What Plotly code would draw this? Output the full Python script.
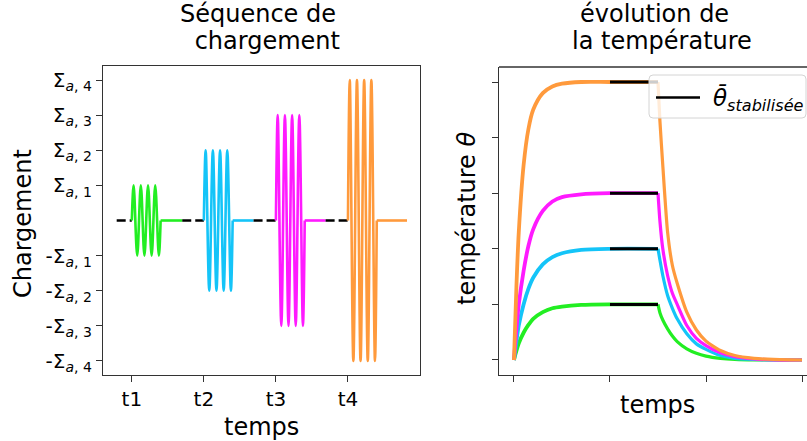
import plotly.graph_objects as go

# ---------------- data ----------------
# left panel: loading sequence
block_starts = [1, 2, 3, 4]
amplitudes = [1, 2, 3, 4]
colors = ['#22ee22', '#14c4f8', '#ff1aff', '#ff9a3c']
wave_offsets = [0, 0.025, 0.075, 0.125, 0.175, 0.225, 0.275, 0.325, 0.375, 0.4]
wave_pattern = [0, 1, -1, 1, -1, 1, -1, 1, -1, 0]
flat_ends = [1.70, 2.69, 3.69, 4.82]
dash_starts = [0.79, 1.70, 2.69, 3.69]
x_ticks_left = [1, 2, 3, 4]
x_ticktext_left = ['t1', 't2', 't3', 't4']
y_ticks_left = [-4, -3, -2, -1, 1, 2, 3, 4]
y_ticktext_left = ['-Σ<sub><i>a</i>, 4</sub>', '-Σ<sub><i>a</i>, 3</sub>', '-Σ<sub><i>a</i>, 2</sub>',
                   '-Σ<sub><i>a</i>, 1</sub>', 'Σ<sub><i>a</i>, 1</sub>', 'Σ<sub><i>a</i>, 2</sub>',
                   'Σ<sub><i>a</i>, 3</sub>', 'Σ<sub><i>a</i>, 4</sub>']

# right panel: temperature evolution
t_rise = [0, 0.025, 0.05, 0.1, 0.15, 0.2, 0.3, 0.4, 0.5, 0.7, 1.0, 1.5]
rise_green = [0, 0.16, 0.3, 0.49, 0.63, 0.74, 0.86, 0.93, 0.96, 0.99, 1.0, 1.0]
rise_cyan = [0, 0.33, 0.62, 1.0, 1.28, 1.48, 1.72, 1.85, 1.92, 1.98, 2.0, 2.0]
rise_magenta = [0, 0.55, 1.0, 1.6, 2.05, 2.35, 2.68, 2.85, 2.93, 2.98, 3.0, 3.0]
rise_orange = [0, 1.3, 2.3, 3.5, 4.15, 4.5, 4.8, 4.92, 4.97, 5.0, 5.0, 5.0]

t_decay = [1.5, 1.52, 1.55, 1.6, 1.65, 1.7, 1.8, 1.9, 2.0, 2.15, 2.3, 2.5, 2.7, 3.0]
decay_green = [1.0, 0.85, 0.72, 0.56, 0.43, 0.33, 0.2, 0.12, 0.07, 0.03, 0.01, 0.0, 0.0, 0.0]
decay_cyan = [2.0, 1.8, 1.52, 1.16, 0.93, 0.74, 0.47, 0.29, 0.19, 0.08, 0.03, 0.01, 0.0, 0.0]
decay_magenta = [3.0, 2.5, 2.0, 1.52, 1.2, 1.0, 0.62, 0.39, 0.26, 0.13, 0.06, 0.02, 0.0, 0.0]
decay_orange = [5.0, 4.3, 3.5, 2.3, 1.7, 1.38, 0.86, 0.54, 0.34, 0.17, 0.08, 0.03, 0.01, 0.0]

plateaus = [1, 2, 3, 5]
stable_t = [1.0, 1.5]
legend_label = '<i>θ̄</i><sub><i>stabilisée</i></sub>'

rises = [rise_green, rise_cyan, rise_magenta, rise_orange]
decays = [decay_green, decay_cyan, decay_magenta, decay_orange]

W, H = 807, 441
FONT = 'DejaVu Sans'


def px_x(p):
    return p / W


def px_y(p):
    return 1 - p / H


fig = go.Figure()

# ---------- left panel ----------
for i in range(4):
    s = block_starts[i]
    a = amplitudes[i]
    c = colors[i]
    fig.add_trace(go.Scatter(x=[dash_starts[i], s], y=[0, 0], mode='lines',
                             line=dict(color='black', width=2.5, dash='9px,4px'),
                             showlegend=False, xaxis='x', yaxis='y', hoverinfo='skip'))
    fig.add_trace(go.Scatter(x=[s + o for o in wave_offsets], y=[a * p for p in wave_pattern],
                             mode='lines', line=dict(color=c, width=2.6, shape='spline', smoothing=1),
                             showlegend=False, xaxis='x', yaxis='y', hoverinfo='skip'))
    fig.add_trace(go.Scatter(x=[s + wave_offsets[-1], flat_ends[i]], y=[0, 0], mode='lines',
                             line=dict(color=c, width=2.6),
                             showlegend=False, xaxis='x', yaxis='y', hoverinfo='skip'))

# ---------- right panel ----------
for i in range(4):
    c = colors[i]
    fig.add_trace(go.Scatter(x=t_rise, y=rises[i], mode='lines',
                             line=dict(color=c, width=3.8, shape='spline', smoothing=0.8),
                             showlegend=False, xaxis='x2', yaxis='y2', hoverinfo='skip'))
    fig.add_trace(go.Scatter(x=t_decay, y=decays[i], mode='lines',
                             line=dict(color=c, width=3.2, shape='spline', smoothing=0.6),
                             showlegend=False, xaxis='x2', yaxis='y2', hoverinfo='skip'))

for i in range(4):
    fig.add_trace(go.Scatter(x=stable_t, y=[plateaus[i]] * 2, mode='lines',
                             line=dict(color='black', width=3),
                             name=legend_label, showlegend=False,
                             xaxis='x2', yaxis='y2', hoverinfo='skip'))

axis_common = dict(showgrid=False, zeroline=False, showline=True, linecolor='#333333',
                   linewidth=1.3, ticks='outside', ticklen=6, tickwidth=1.3, tickcolor='#333333',
                   tickfont=dict(family=FONT, size=20, color='black'))

fig.update_layout(
    xaxis=dict(domain=[px_x(103), px_x(420)], range=[0.6, 5.0], tickvals=x_ticks_left,
               ticktext=x_ticktext_left, mirror=True, anchor='y', **axis_common),
    yaxis=dict(domain=[px_y(375), px_y(66)], range=[-4.4, 4.4], tickvals=y_ticks_left,
               ticktext=y_ticktext_left, mirror=True, anchor='x', **axis_common),
    xaxis2=dict(domain=[px_x(499), 1.0], range=[-0.156, 3.052], tickvals=[0, 1, 2, 3],
                showticklabels=False, anchor='y2', **axis_common),
    yaxis2=dict(domain=[px_y(375), px_y(67)], range=[-0.27, 5.27], tickvals=[0, 1, 2, 3, 4, 5],
                showticklabels=False, anchor='x2', **axis_common),
)

# top spine of the right axes (its right spine lies outside the picture)
fig.add_shape(type='line', xref='paper', yref='paper', x0=px_x(499), x1=1.0,
              y0=px_y(67), y1=px_y(67), line=dict(color='#333333', width=1.3))

# legend box (matplotlib style, rounded corners)
lx0, lx1, ly0, ly1, r = 649, 806, 75, 118, 4
path = (f"M {px_x(lx0 + r)},{px_y(ly0)} L {px_x(lx1 - r)},{px_y(ly0)} "
        f"Q {px_x(lx1)},{px_y(ly0)} {px_x(lx1)},{px_y(ly0 + r)} "
        f"L {px_x(lx1)},{px_y(ly1 - r)} Q {px_x(lx1)},{px_y(ly1)} {px_x(lx1 - r)},{px_y(ly1)} "
        f"L {px_x(lx0 + r)},{px_y(ly1)} Q {px_x(lx0)},{px_y(ly1)} {px_x(lx0)},{px_y(ly1 - r)} "
        f"L {px_x(lx0)},{px_y(ly0 + r)} Q {px_x(lx0)},{px_y(ly0)} {px_x(lx0 + r)},{px_y(ly0)} Z")
fig.add_shape(type='path', path=path, xref='paper', yref='paper',
              fillcolor='rgba(255,255,255,0.8)', line=dict(color='#d4d4d4', width=1))
fig.add_shape(type='line', xref='paper', yref='paper', x0=px_x(656), x1=px_x(700),
              y0=px_y(97.5), y1=px_y(97.5), line=dict(color='black', width=2.6))

ann_font = dict(family=FONT, size=24, color='black')
annotations = [
    dict(text='Séquence de', x=px_x(258), y=px_y(30), xanchor='center', yanchor='bottom'),
    dict(text=' chargement', x=px_x(263), y=px_y(57), xanchor='center', yanchor='bottom'),
    dict(text='évolution de', x=px_x(654), y=px_y(30), xanchor='center', yanchor='bottom'),
    dict(text='la température', x=px_x(662), y=px_y(57), xanchor='center', yanchor='bottom'),
    dict(text='temps', x=px_x(261), y=px_y(427), xanchor='center', yanchor='middle'),
    dict(text='temps', x=px_x(657), y=px_y(405), xanchor='center', yanchor='middle'),
    dict(text='Chargement', x=px_x(23), y=px_y(224), xanchor='center', yanchor='middle',
         textangle=-90),
    dict(text='température <i>θ</i>', x=px_x(467), y=px_y(219), xanchor='center',
         yanchor='middle', textangle=-90),
]
for a in annotations:
    a.update(font=ann_font)
annotations.append(dict(text=legend_label, x=px_x(711), y=px_y(100), xanchor='left',
                        yanchor='middle', font=dict(family=FONT, size=23, color='black')))
for a in annotations:
    a.update(xref='paper', yref='paper', showarrow=False)

fig.update_layout(
    width=W, height=H,
    margin=dict(l=0, r=0, t=0, b=0),
    paper_bgcolor='white', plot_bgcolor='white',
    font=dict(family=FONT, color='black'),
    annotations=annotations,
    showlegend=False,
)

fig.write_html('out.html', config={'displayModeBar': False},
               post_script="document.body.style.margin='0';document.body.style.overflow='hidden';")
